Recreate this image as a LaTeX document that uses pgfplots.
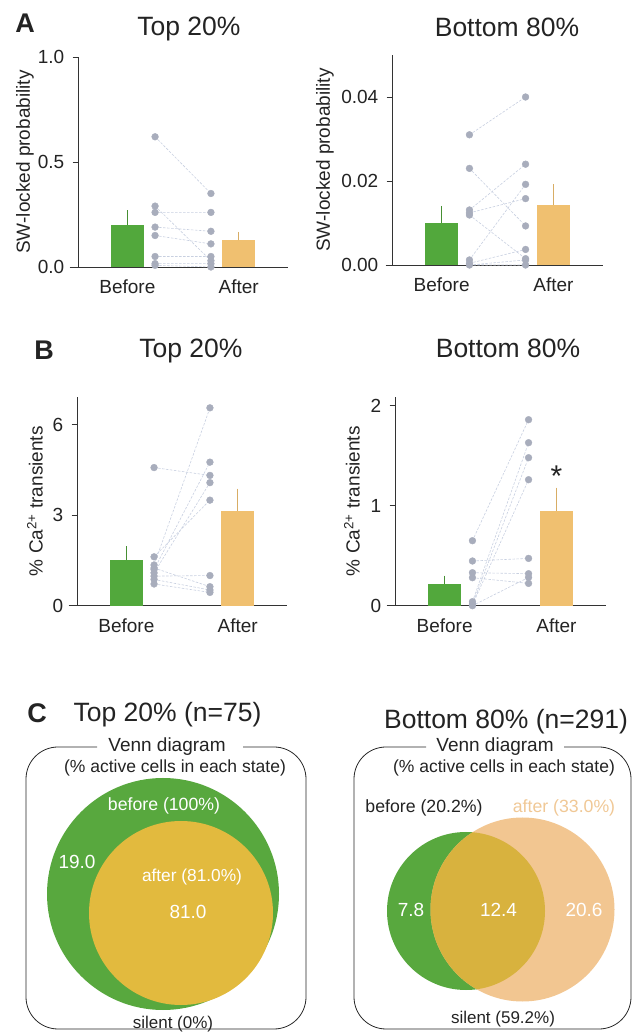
\documentclass[border=0pt]{standalone}
\usepackage{fontspec}
\setmainfont{Liberation Sans}
\usepackage{pgfplots}
\pgfplotsset{compat=1.18}
\definecolor{bargreen}{RGB}{82,168,60}
\definecolor{barorange}{RGB}{240,192,112}
\definecolor{ptgrey}{RGB}{168,173,188}
\definecolor{lngrey}{RGB}{200,208,224}
\definecolor{vgreen}{RGB}{88,168,62}
\definecolor{vyellow}{RGB}{226,186,62}
\definecolor{vorange}{RGB}{242,198,145}
\definecolor{vgold}{RGB}{216,178,62}
\definecolor{txt}{RGB}{35,35,35}
\definecolor{aftertxt}{RGB}{240,200,150}
\newcommand\fs[1]{\fontsize{#1}{#1}\selectfont}
\pgfplotsset{
 panel/.style={anchor=south west, scale only axis, width=210pt, height=210pt,
   xmin=0, xmax=10, ymin=0, axis x line*=bottom, axis y line*=left,
   axis line style={-, line width=0.9pt, color=black!80},
   tick align=outside, xtick={2.35,7.65}, xticklabels={Before,After},
   major tick length=5.5pt, scaled y ticks=false,
   x tick style={draw=none},
   y tick style={line width=0.8pt, black!80},
   ticklabel style={font=\fs{19}, text=txt},
   xticklabel style={anchor=base, yshift=-21pt},
   yticklabel style={anchor=east, inner sep=2pt, xshift=-6pt},
   ylabel style={font=\fs{19}, text=txt, anchor=center},
   clip=false},
 pairline/.style={lngrey, line width=0.6pt, dash pattern=on 2.5pt off 1.5pt, unbounded coords=jump, forget plot},
 pts/.style={ptgrey, only marks, mark=*, mark size=3.4pt, mark options={fill=ptgrey, draw=ptgrey}},
 gbar/.style={ybar, bar shift=0pt, bar width=33pt, fill=bargreen, draw=none,
   error bars/.cd, y dir=plus, y explicit, error mark=none,
   error bar style={bargreen!85!black, line width=1.2pt}},
 obar/.style={ybar, bar shift=0pt, bar width=33pt, fill=barorange, draw=none,
   error bars/.cd, y dir=plus, y explicit, error mark=none,
   error bar style={barorange!90!black, line width=1.2pt}},
}
\begin{document}
\begin{tikzpicture}
\useasboundingbox (0,0) rectangle (633pt,1032pt);
% ---------- titles ----------
\node[anchor=base, font=\bfseries\fs{27}, text=txt] at (25pt,999pt) {A};
\node[anchor=base, font=\fs{26.5}, text=txt] at (189pt,996pt) {Top 20\%};
\node[anchor=base, font=\fs{26.5}, text=txt] at (507pt,995pt) {Bottom 80\%};
\node[anchor=base, font=\bfseries\fs{27}, text=txt] at (44pt,672pt) {B};
\node[anchor=base, font=\fs{26.5}, text=txt] at (191pt,674pt) {Top 20\%};
\node[anchor=base, font=\fs{26.5}, text=txt] at (508pt,674pt) {Bottom 80\%};
\node[anchor=base, font=\bfseries\fs{27}, text=txt] at (37pt,309pt) {C};
\node[anchor=base, font=\fs{26.5}, text=txt] at (167.5pt,310pt) {Top 20\% (n=75)};
\node[anchor=base, font=\fs{26.5}, text=txt] at (506pt,303pt) {Bottom 80\% (n=291)};

% ---------- A left ----------
\begin{axis}[panel, at={(78pt,765pt)}, ymax=1, ytick={0,0.5,1}, yticklabels={0.0,0.5,1.0},
  ylabel={SW-locked probability}, ylabel style={at={([xshift=-53pt]axis description cs:0,0.5)}}]
\addplot[pairline] coordinates {(3.67,0.62)(6.33,0.35)(6.33,nan)
 (3.67,0.29)(6.33,0.03)(6.33,nan)(3.67,0.26)(6.33,0.26)(6.33,nan)
 (3.67,0.19)(6.33,0.17)(6.33,nan)(3.67,0.15)(6.33,0.11)(6.33,nan)
 (3.67,0.05)(6.33,0.05)(6.33,nan)(3.67,0.016)(6.33,0.016)(6.33,nan)
 (3.67,0.008)(6.33,0.0)};
\addplot[pts] coordinates {(3.67,0.62)(3.67,0.29)(3.67,0.26)(3.67,0.19)(3.67,0.15)(3.67,0.05)(3.67,0.016)(3.67,0.008)};
\addplot[pts] coordinates {(6.33,0.35)(6.33,0.03)(6.33,0.26)(6.33,0.17)(6.33,0.11)(6.33,0.05)(6.33,0.016)(6.33,0.0)};
\addplot[gbar] coordinates {(2.35,0.20) +- (0,0.07)};
\addplot[obar] coordinates {(7.65,0.127) +- (0,0.04)};
\draw[black!80, line width=0.9pt] (axis cs:-0.4,0) -- (axis cs:0,0);
\end{axis}

% ---------- A right ----------
\begin{axis}[panel, at={(392pt,767pt)}, width=211pt, ymax=0.05, ytick={0,0.02,0.04}, yticklabels={0.00,0.02,0.04},
  ylabel={SW-locked probability}, ylabel style={at={([xshift=-67pt]axis description cs:0,0.5)}}]
\addplot[pairline] coordinates {(3.67,0.031)(6.33,0.040)(6.33,nan)
 (3.67,0.023)(6.33,0.0093)(6.33,nan)(3.67,0.0131)(6.33,0.024)(6.33,nan)
 (3.67,0.0124)(6.33,0.0158)(6.33,nan)(3.67,0.0119)(6.33,0.0015)(6.33,nan)
 (3.67,0.0012)(6.33,0.0192)(6.33,nan)(3.67,0.0004)(6.33,0.0037)(6.33,nan)
 (3.67,0.0)(6.33,0.0012)(6.33,nan)(3.67,0.0)(6.33,0.0)};
\addplot[pts] coordinates {(3.67,0.031)(3.67,0.023)(3.67,0.0131)(3.67,0.0124)(3.67,0.0119)(3.67,0.0012)(3.67,0.0004)(3.67,0.0)};
\addplot[pts] coordinates {(6.33,0.040)(6.33,0.0093)(6.33,0.024)(6.33,0.0158)(6.33,0.0015)(6.33,0.0192)(6.33,0.0037)(6.33,0.0012)(6.33,0.0)};
\addplot[gbar] coordinates {(2.35,0.010) +- (0,0.0041)};
\addplot[obar] coordinates {(7.65,0.0144) +- (0,0.0048)};
\draw[black!80, line width=0.9pt] (axis cs:-0.3,0) -- (axis cs:0,0);
\end{axis}

% ---------- B left ----------
\begin{axis}[panel, at={(77pt,426.3pt)}, height=209pt, ymax=6.93, ytick={0,3,6}, yticklabels={0,3,6},
  ylabel={\% Ca\textsuperscript{2+} transients}, ylabel style={at={([xshift=-42pt]axis description cs:0,0.5)}}]
\addplot[pairline] coordinates {(3.67,4.58)(6.33,4.32)(6.33,nan)
 (3.67,1.62)(6.33,3.5)(6.33,nan)(3.67,1.35)(6.33,6.56)(6.33,nan)
 (3.67,1.2)(6.33,4.76)(6.33,nan)(3.67,1.09)(6.33,4.08)(6.33,nan)
 (3.67,0.98)(6.33,1.0)(6.33,nan)(3.67,1.25)(6.33,0.63)(6.33,nan)
 (3.67,0.87)(6.33,0.52)(6.33,nan)(3.67,0.72)(6.33,0.44)};
\addplot[pts] coordinates {(3.67,4.58)(3.67,1.62)(3.67,1.35)(3.67,1.2)(3.67,1.09)(3.67,0.98)(3.67,1.25)(3.67,0.87)(3.67,0.72)};
\addplot[pts] coordinates {(6.33,4.32)(6.33,3.5)(6.33,6.56)(6.33,4.76)(6.33,4.08)(6.33,1.0)(6.33,0.63)(6.33,0.52)(6.33,0.44)};
\addplot[gbar] coordinates {(2.35,1.53) +- (0,0.44)};
\addplot[obar] coordinates {(7.65,3.14) +- (0,0.74)};
\draw[black!80, line width=0.9pt] (axis cs:-0.4,0) -- (axis cs:0,0);
\end{axis}

% ---------- B right ----------
\begin{axis}[panel, at={(395pt,426.3pt)}, width=211pt, height=209pt, ymax=2.09, ytick={0,1,2}, yticklabels={0,1,2},
  ylabel={\% Ca\textsuperscript{2+} transients}, ylabel style={at={([xshift=-43pt]axis description cs:0,0.5)}}]
\addplot[pairline] coordinates {(3.67,0.65)(6.33,1.86)(6.33,nan)
 (3.67,0.447)(6.33,0.473)(6.33,nan)(3.67,0.33)(6.33,0.32)(6.33,nan)
 (3.67,0.28)(6.33,0.223)(6.33,nan)(3.67,0.04)(6.33,1.63)(6.33,nan)
 (3.67,0.017)(6.33,1.48)(6.33,nan)(3.67,0.007)(6.33,1.26)(6.33,nan)
 (3.67,0.0)(6.33,0.283)};
\addplot[pts] coordinates {(3.67,0.65)(3.67,0.447)(3.67,0.33)(3.67,0.28)(3.67,0.04)(3.67,0.017)(3.67,0.007)(3.67,0.0)};
\addplot[pts] coordinates {(6.33,1.86)(6.33,0.473)(6.33,0.32)(6.33,0.223)(6.33,1.63)(6.33,1.48)(6.33,1.26)(6.33,0.283)};
\addplot[gbar] coordinates {(2.35,0.217) +- (0,0.083)};
\addplot[obar] coordinates {(7.65,0.947) +- (0,0.233)};
\node[font=\fs{30}, text=txt] at (axis cs:7.65,1.30) {*};
\draw[black!80, line width=0.9pt] (axis cs:-0.4,0) -- (axis cs:0,0);
\end{axis}

% ---------- C: Venn diagrams ----------
\begin{axis}[at={(0pt,0pt)}, anchor=south west, scale only axis, width=633pt, height=392pt,
  xmin=0, xmax=633, ymin=0, ymax=392, hide axis, clip=false]
% left
\fill[vgreen] (axis cs:163,138) circle[radius=116pt];
\fill[vyellow] (axis cs:181,119) circle[radius=92pt];
\draw[line width=0.8pt, black!85, rounded corners=32pt] (axis cs:97,285) -- (axis cs:26,285) -- (axis cs:26,3) -- (axis cs:306,3) -- (axis cs:306,285) -- (axis cs:243,285);
\node[anchor=base, font=\fs{19}, text=txt] at (axis cs:167,280) {Venn diagram};
\node[anchor=base, font=\fs{17.5}, text=txt] at (axis cs:175,259) {(\% active cells in each state)};
\node[anchor=base, font=\fs{17.7}, text=white] at (axis cs:164,221) {before (100\%)};
\node[anchor=base, font=\fs{19}, text=white] at (axis cs:77,163) {19.0};
\node[anchor=base, font=\fs{17.3}, text=white] at (axis cs:192,150) {after (81.0\%)};
\node[anchor=base, font=\fs{19}, text=white] at (axis cs:188,113) {81.0};
\node[anchor=base, font=\fs{17}, text=txt] at (axis cs:173,4) {silent (0\%)};
% right
\fill[vgreen] (axis cs:466,121) circle[radius=79pt];
\fill[vorange] (axis cs:522.5,122.5) circle[radius=92pt];
\begin{scope}
\clip (axis cs:466,121) circle[radius=79pt];
\fill[vgold] (axis cs:522.5,122.5) circle[radius=92pt];
\end{scope}
\draw[line width=0.8pt, black!85, rounded corners=32pt] (axis cs:426,285) -- (axis cs:354,285) -- (axis cs:354,3) -- (axis cs:631,3) -- (axis cs:631,285) -- (axis cs:564,285);
\node[anchor=base, font=\fs{19}, text=txt] at (axis cs:495,280) {Venn diagram};
\node[anchor=base, font=\fs{17.5}, text=txt] at (axis cs:504,259) {(\% active cells in each state)};
\node[anchor=base, font=\fs{17.7}, text=txt] at (axis cs:424,219) {before (20.2\%)};
\node[anchor=base, font=\fs{17.7}, text=aftertxt] at (axis cs:564,219) {after (33.0\%)};
\node[anchor=base, font=\fs{19}, text=white] at (axis cs:411,115) {7.8};
\node[anchor=base, font=\fs{19}, text=white] at (axis cs:498.5,115) {12.4};
\node[anchor=base, font=\fs{19}, text=white] at (axis cs:584,115) {20.6};
\node[anchor=base, font=\fs{17}, text=txt] at (axis cs:503,9) {silent (59.2\%)};
\end{axis}
\end{tikzpicture}
\end{document}
